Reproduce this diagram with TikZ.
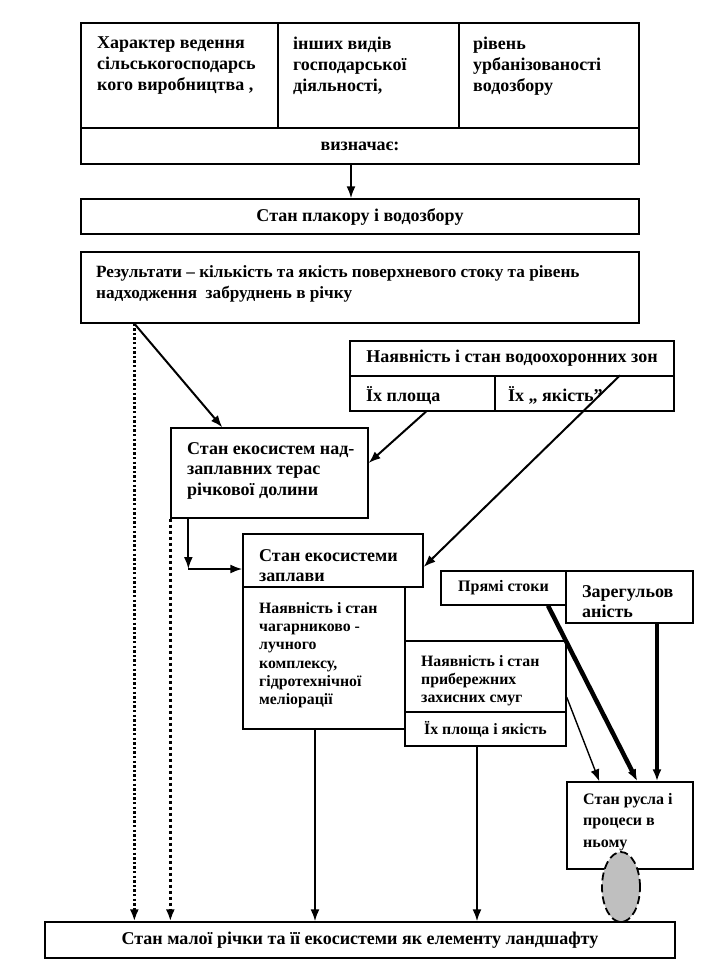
\documentclass[tikz,border=0pt]{standalone}
\usepackage{fontspec}
\setmainfont{Liberation Serif}
\usetikzlibrary{arrows.meta,shapes.geometric}

\tikzset{
  box/.style={draw, line width=1.3pt, inner sep=0pt, font=\bfseries\fontsize{18}{20.7}\selectfont},
  txt/.style={anchor=north west, inner sep=0pt, align=left, font=\bfseries\fontsize{18}{20.7}\selectfont},
  small/.style={font=\bfseries\fontsize{15.8}{18.3}\selectfont},
  link/.style={->, line width=2pt},
  dotsA/.style={->, line width=2.4pt, dash pattern=on 2.4pt off 2.2pt},
  dotsB/.style={->, line width=3.2pt, dash pattern=on 3.4pt off 2.6pt},
}

\begin{document}
\begin{tikzpicture}[x=1pt,y=-1pt,>={Latex[length=12pt,width=9pt]}]
\useasboundingbox (0,0) rectangle (710,962);

% top block
\node[box, minimum width=197pt, minimum height=105pt] (char) at (179.5,75.5) {};
\node[box, minimum width=181pt, minimum height=105pt] (oth) at (368.5,75.5) {};
\node[box, minimum width=180pt, minimum height=105pt] (urb) at (549,75.5) {};
\node[box, minimum width=558pt, minimum height=36pt] (viz) at (360,146) {визначає:};
\node[txt] (charT) at (97,37) {Характер ведення\\сільськогосподарсь\\кого виробництва ,};
\node[txt] (othT) at (293,37) {інших видів\\господарської\\діяльності,};
\node[txt] (urbT) at (473,37) {рівень\\урбанізованості\\водозбору};

\node[box, minimum width=558pt, minimum height=35pt] (plak) at (360,216.5) {Стан плакору і водозбору};
\node[box, minimum width=558pt, minimum height=71pt] (res) at (360,287.5) {};
\node[txt, font=\bfseries\fontsize{17.2}{21}\selectfont] (resT) at (96,265) {Результати – кількість та якість поверхневого стоку та рівень\\надходження\ \ забруднень в річку};

% water protection zones
\node[box, minimum width=324pt, minimum height=35pt] (zon) at (512,358.5) {Наявність і стан водоохоронних зон};
\node[box, minimum width=145pt, minimum height=35pt] (plo) at (422.5,393.5) {};
\node[box, minimum width=179pt, minimum height=35pt] (yak) at (584.5,393.5) {};
\node[txt, anchor=base west] (ploT) at (366,401) {Їх площа};
\node[txt, anchor=base west] (yakT) at (508,401) {Їх „ якість”};

% valley
\node[box, minimum width=197pt, minimum height=90pt] (ter) at (269.5,473) {};
\node[txt] (terT) at (187,442) {Стан екосистем над-\\заплавних терас\\річкової долини};
\node[box, minimum width=180pt, minimum height=53pt] (zap) at (333,560.5) {};
\node[txt] (zapT) at (259,549) {Стан екосистеми\\заплави};
\node[box, minimum width=162pt, minimum height=142pt] (cha) at (324,658) {};
\node[txt, small] (chaT) at (259,602) {Наявність і стан\\чагарниково -\\лучного\\комплексу,\\гідротехнічної\\меліорації};

% river bed
\node[box, minimum width=125pt, minimum height=34pt, font=\bfseries\fontsize{16}{19}\selectfont] (pry) at (503.5,588) {Прямі стоки};
\node[box, minimum width=127pt, minimum height=52pt] (zar) at (629.5,597) {};
\node[txt] (zarT) at (582,585) {Зарегульов\\аність};
\node[box, minimum width=161pt, minimum height=71pt] (pri) at (485.5,676.5) {};
\node[txt, small] (priT) at (421,655) {Наявність і стан\\прибережних\\захисних смуг};
\node[box, small, minimum width=161pt, minimum height=34pt] (pri2) at (485.5,729) {Їх площа і якість};
\node[box, minimum width=126pt, minimum height=87pt] (rus) at (630,825.5) {};
\node[txt, font=\bfseries\fontsize{16}{21.5}\selectfont] (rusT) at (583,793) {Стан русла і\\процеси в\\ньому};
\node[ellipse, draw, fill=black!25, line width=1.8pt, dash pattern=on 8pt off 4pt, minimum width=38pt, minimum height=70pt, inner sep=0pt] (ell) at (621,887) {};

\node[box, minimum width=630pt, minimum height=36pt, font=\bfseries\fontsize{18}{20}\selectfont] (bot) at (360,940) {Стан малої річки та її екосистеми як елементу ландшафту};

% connectors
\coordinate (resOut) at ([xshift=54pt]res.south west);
\coordinate (terOut) at ([xshift=18pt]ter.south west);
\coordinate (zapIn) at ([yshift=-8.5pt]zap.west);
\coordinate (chaOut) at ([xshift=-9pt]cha.south);
\coordinate (priOut) at ([xshift=-8.5pt]pri2.south);
\coordinate (zarOut) at ([xshift=27.5pt]zar.south);

\draw[link] ([xshift=-9pt]viz.south) -- ([xshift=-9pt]plak.north);
\draw[dotsA] (resOut) -- (resOut |- bot.north);
\draw[dotsB] (ter.south west) -- (ter.south west |- bot.north);
\draw[link] (resOut) -- ([xshift=52pt]ter.north west);
\draw[link] ([xshift=3.5pt]plo.south) -- ([yshift=10pt]ter.east);
\draw[link] ([xshift=35.5pt]yak.north) -- ([yshift=-6.5pt]zap.east);
\draw[link] (terOut) -- (terOut |- zapIn);
\draw[link] (terOut |- zapIn) -- (zapIn);
\draw[link] (chaOut) -- (chaOut |- bot.north);
\draw[link] (priOut) -- (priOut |- bot.north);
\draw[->, line width=1.4pt] ([yshift=-20.5pt]pri.east) -- ([xshift=33pt]rus.north west);
\draw[->, line width=4.5pt] ([xshift=44.5pt]pry.south) -- ([xshift=71pt]rus.north west);
\draw[->, line width=3.5pt] (zarOut) -- (zarOut |- rus.north);
\end{tikzpicture}
\end{document}
